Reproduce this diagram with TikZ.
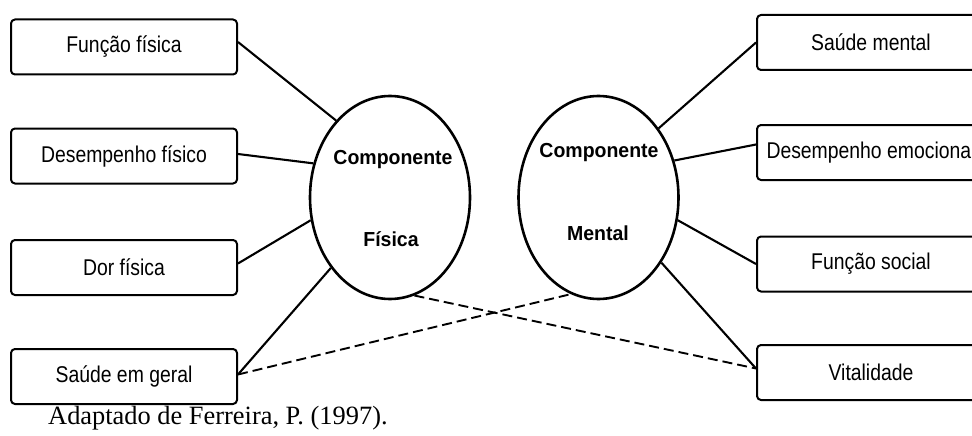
\documentclass[tikz,border=0pt]{standalone}
\usepackage{fontspec}
\setmainfont{Liberation Serif}
\newfontfamily\boxfont[FakeStretch=0.85]{Liberation Sans}
\newfontfamily\ellfont[FakeStretch=0.96]{Liberation Sans}
\usetikzlibrary{shapes.geometric,calc}
\begin{document}
\begin{tikzpicture}[x=1pt,y=-1pt,line join=round,
  box/.style={draw,line width=2pt,rounded corners=4pt,minimum width=226pt,minimum height=55pt,inner sep=0pt,font=\boxfont\fontsize{22.8}{26}\selectfont},
  rbox/.style={box,minimum width=228pt},
  comp/.style={draw,ellipse,line width=2.6pt,minimum width=160pt,minimum height=203pt,inner sep=0pt},
  ctext/.style={anchor=base,inner sep=0pt,font=\ellfont\bfseries\fontsize{20.3}{24}\selectfont},
  link/.style={line width=2.1pt},
  dlink/.style={line width=1.9pt,dash pattern=on 10pt off 5pt}]
\useasboundingbox (0,0) rectangle (972,436);
\clip (0,0) rectangle (972,436);
% left boxes
\node[box] (f1) at (124,47) {Função física};
\node[box] (f2) at (124,156) {Desempenho físico};
\node[box] (f3) at (124,267.5) {Dor física};
\node[box] (f4) at (124,376.5) {Saúde em geral};
% right boxes
\node[rbox] (m1) at (871,42.5) {Saúde mental};
\node[rbox] (m2) at (871,152.5) {Desempenho emocional};
\node[rbox] (m3) at (871,264) {Função social};
\node[rbox] (m4) at (871,372.5) {Vitalidade};
% ellipses
\node[comp] (L) at (390,197.5) {};
\node[comp] (R) at (598.5,197.5) {};
\node[ctext] (lt1) at (393,164) {Componente};
\node[ctext] (lt2) at (391,246) {Física};
\node[ctext] (rt1) at (599,157) {Componente};
\node[ctext] (rt2) at (598,240) {Mental};
% connectors left
\draw[link] ($(f1.east)+(0,-5)$) -- (L.125);
\draw[link] ($(f2.east)+(0,-2)$) -- (L.156);
\draw[link] ($(f3.east)+(0,-4)$) -- (L.196);
\draw[link] ($(f4.east)+(0,-2)$) -- (L.230);
% connectors right
\draw[link] (m1.west) -- (R.49);
\draw[link] ($(m2.west)+(0,-8)$) -- (R.26);
\draw[link] (m3.west) -- (R.-16);
\draw[link] ($(m4.west)+(0,-4)$) -- (R.-46);
% dashed cross links
\draw[dlink] ($(f4.east)+(0,-2)$) -- (R.254);
\draw[dlink] (L.284) -- ($(m4.west)+(0,-4)$);
% caption
\node[anchor=base west,inner sep=0pt,font=\fontsize{26.4}{30}\selectfont] (cap) at (48,424) {Adaptado de Ferreira, P. (1997).};
\end{tikzpicture}
\end{document}
